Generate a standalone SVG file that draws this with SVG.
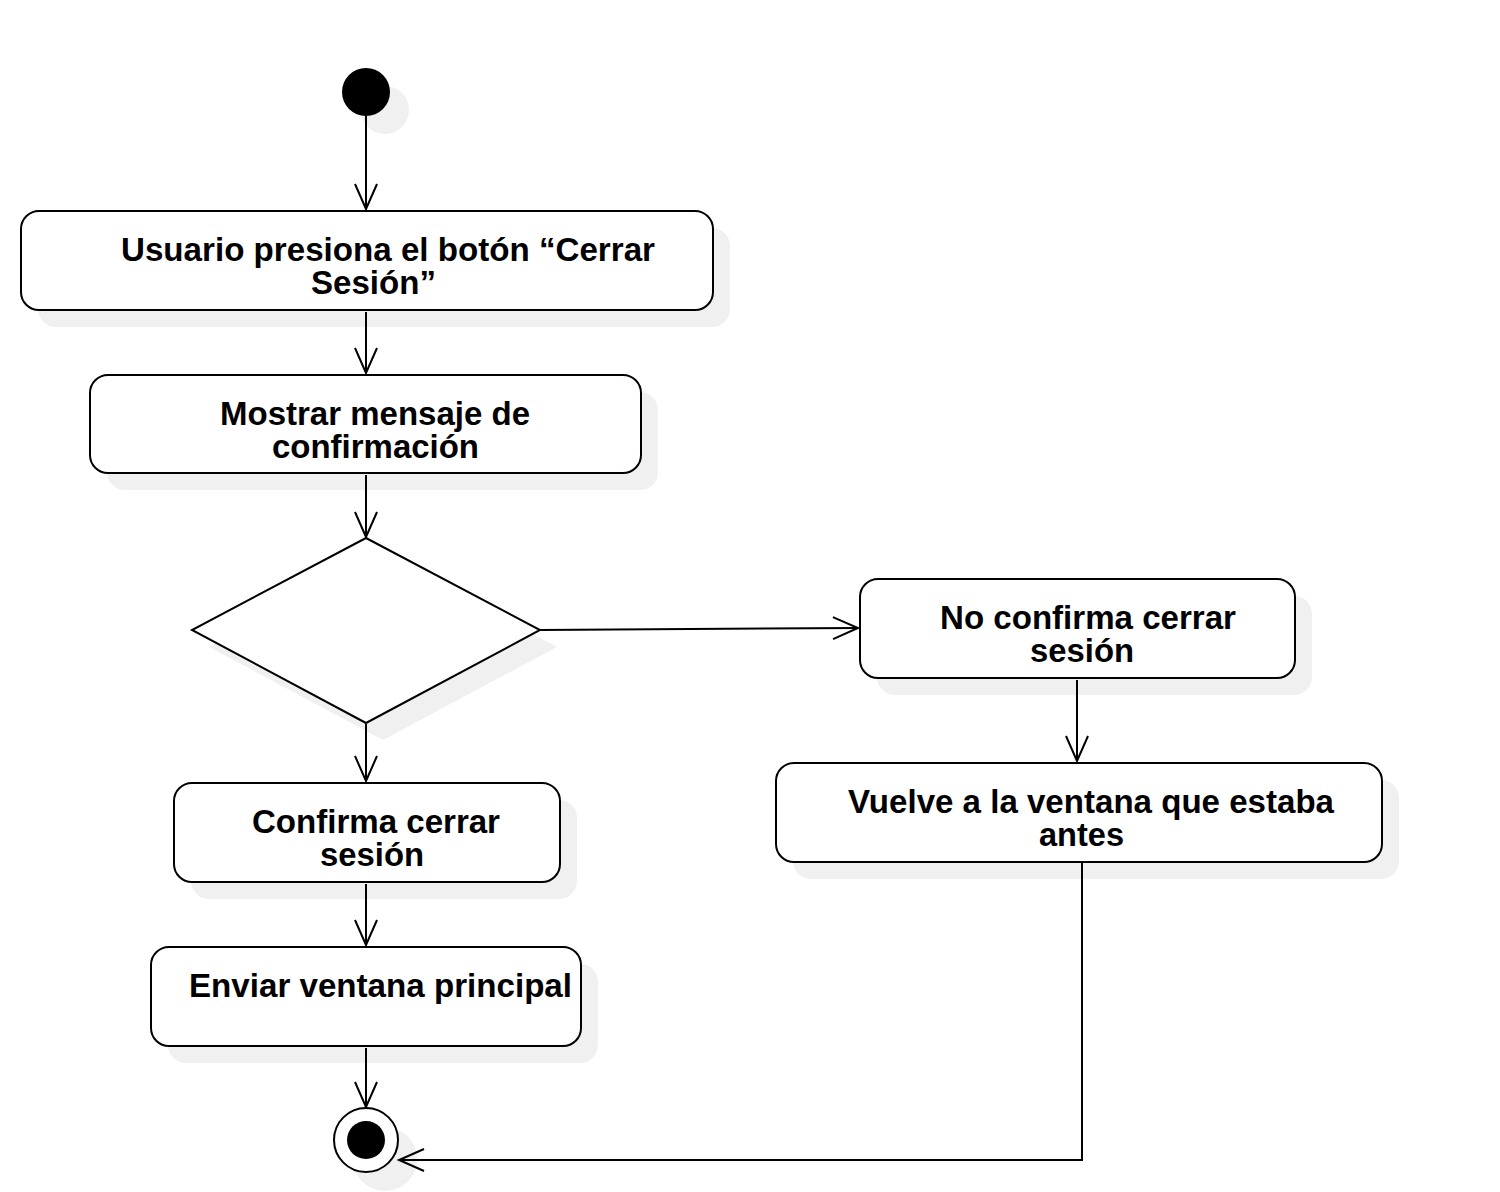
<svg xmlns="http://www.w3.org/2000/svg" width="1500" height="1192" viewBox="0 0 1500 1192">
<style>
.sh{fill:#f0f0f0;stroke:none}
.box{fill:#fff;stroke:#000;stroke-width:2}
.t{font-family:"Liberation Sans",Arial,sans-serif;font-weight:bold;font-size:33px;fill:#000;text-anchor:middle}
.c{fill:none;stroke:#000;stroke-width:2;marker-end:url(#arr)}
</style>
<defs>
<marker id="arr" markerUnits="userSpaceOnUse" markerWidth="32" markerHeight="28" viewBox="-28 -14 32 28" refX="0" refY="0" orient="auto">
<path d="M-25,-11 L0,0 L-25,11" fill="none" stroke="#000" stroke-width="2"/>
</marker>
</defs>
<rect width="1500" height="1192" fill="#fff"/>
<g id="start">
<circle class="sh" cx="385" cy="110" r="24"/>
<circle cx="366" cy="92" r="24" fill="#000"/>
</g>
<g id="n1">
<rect class="sh" x="38" y="228" width="692" height="99" rx="18"/>
<rect class="box" x="21" y="211" width="692" height="99" rx="18"/>
<text class="t" x="388" y="261" textLength="534" lengthAdjust="spacingAndGlyphs">Usuario presiona el botón “Cerrar</text>
<text class="t" x="373.5" y="294" textLength="125" lengthAdjust="spacingAndGlyphs">Sesión”</text>
</g>
<g id="n2">
<rect class="sh" x="107" y="392" width="551" height="98" rx="18"/>
<rect class="box" x="90" y="375" width="551" height="98" rx="18"/>
<text class="t" x="375" y="424.5" textLength="310" lengthAdjust="spacingAndGlyphs">Mostrar mensaje de</text>
<text class="t" x="375.5" y="457.5" textLength="207" lengthAdjust="spacingAndGlyphs">confirmación</text>
</g>
<g id="decision">
<polygon class="sh" points="383,555 557,647 383,740 209,647"/>
<polygon class="box" points="366,538 540,630 366,723 192,630"/>
</g>
<g id="n3">
<rect class="sh" x="877" y="596" width="435" height="99" rx="18"/>
<rect class="box" x="860" y="579" width="435" height="99" rx="18"/>
<text class="t" x="1088" y="628.5" textLength="296" lengthAdjust="spacingAndGlyphs">No confirma cerrar</text>
<text class="t" x="1082" y="661.5" textLength="104" lengthAdjust="spacingAndGlyphs">sesión</text>
</g>
<g id="n4">
<rect class="sh" x="793" y="780" width="606" height="99" rx="18"/>
<rect class="box" x="776" y="763" width="606" height="99" rx="18"/>
<text class="t" x="1091" y="812.5" textLength="486" lengthAdjust="spacingAndGlyphs">Vuelve a la ventana que estaba</text>
<text class="t" x="1081.5" y="845.5" textLength="85" lengthAdjust="spacingAndGlyphs">antes</text>
</g>
<g id="n5">
<rect class="sh" x="191" y="800" width="386" height="99" rx="18"/>
<rect class="box" x="174" y="783" width="386" height="99" rx="18"/>
<text class="t" x="376" y="832.5" textLength="248" lengthAdjust="spacingAndGlyphs">Confirma cerrar</text>
<text class="t" x="372" y="865.5" textLength="104" lengthAdjust="spacingAndGlyphs">sesión</text>
</g>
<g id="n6">
<rect class="sh" x="168" y="964" width="430" height="99" rx="18"/>
<rect class="box" x="151" y="947" width="430" height="99" rx="18"/>
<text class="t" x="380.5" y="996.5" textLength="383" lengthAdjust="spacingAndGlyphs">Enviar ventana principal</text>
</g>
<g id="end">
<circle class="sh" cx="385" cy="1159" r="32"/>
<circle cx="366" cy="1140" r="32" fill="#fff" stroke="#000" stroke-width="2"/>
<circle cx="366" cy="1140" r="19" fill="#000"/>
</g>
<g id="connectors">
<path class="c" d="M366,116 L366,209"/>
<path class="c" d="M366,312 L366,373"/>
<path class="c" d="M366,475 L366,537"/>
<path class="c" d="M540,630 L858,628"/>
<path class="c" d="M366,724 L366,781"/>
<path class="c" d="M1077,680 L1077,761"/>
<path class="c" d="M366,884 L366,945"/>
<path class="c" d="M366,1048 L366,1107"/>
<path class="c" d="M1082,862 L1082,1160 L399,1160"/>
</g>
</svg>
